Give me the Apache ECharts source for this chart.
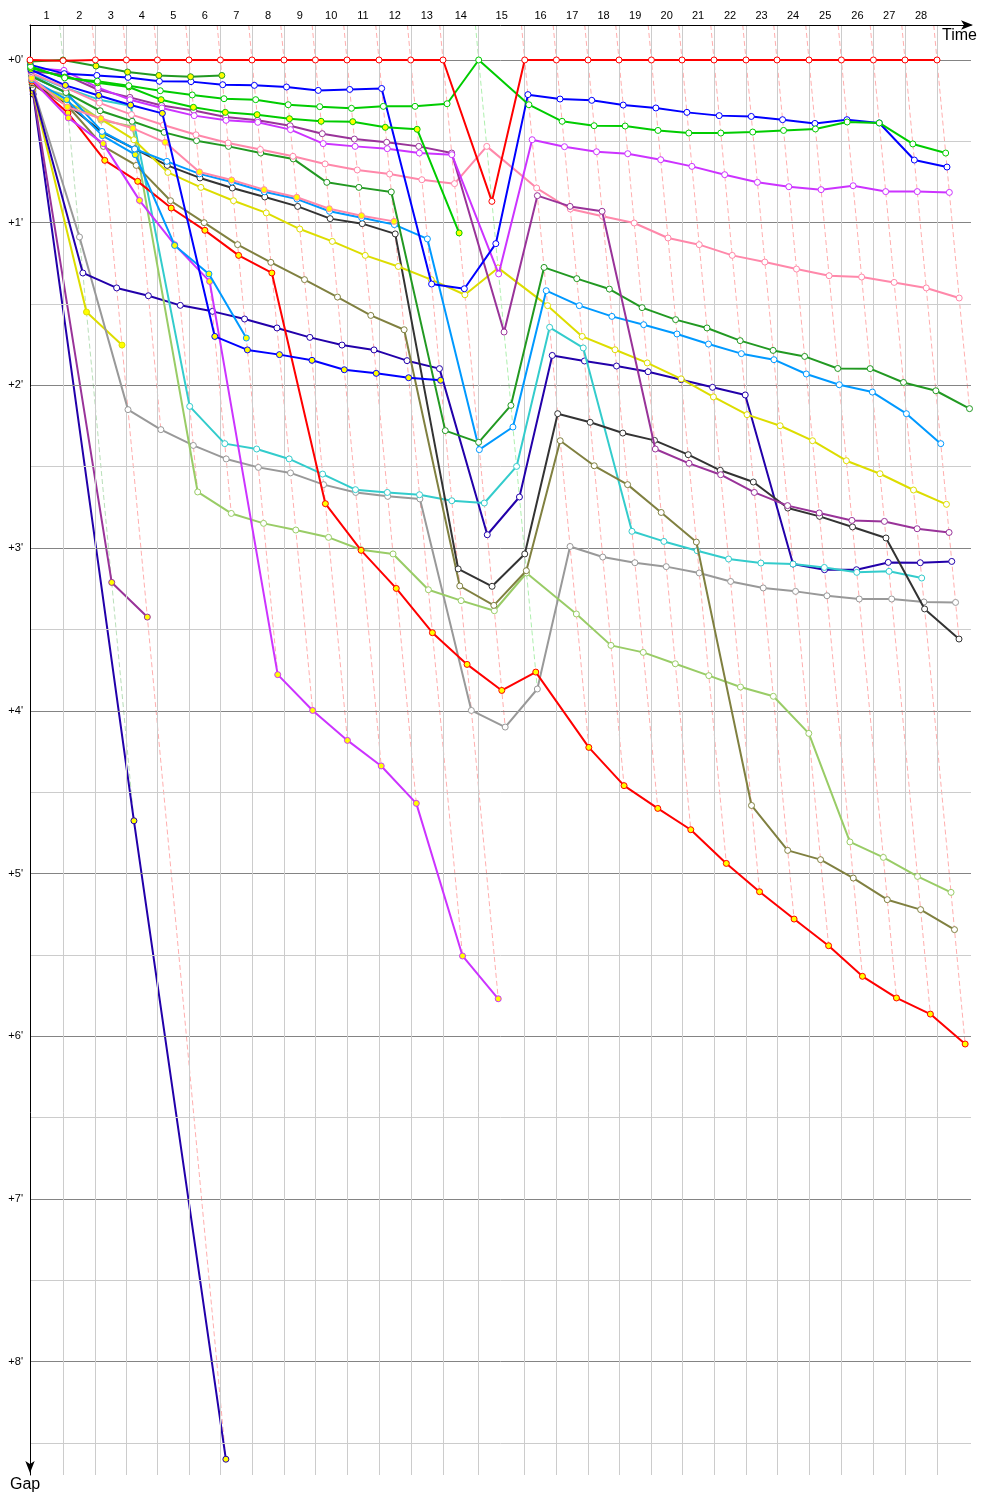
<!DOCTYPE html>
<html><head><meta charset="utf-8">
<script src="https://cdn.jsdelivr.net/npm/echarts@6/dist/echarts.min.js"></script>
<style>html,body{margin:0;padding:0;background:#fff}#c{width:1000px;height:1500px}</style>
</head><body><div id="c"></div>
<script>
// Leader's cumulative time (minutes) at the end of each lap, lap 0..28
const leaderTime = [0, 2.175, 4.311, 6.355, 8.398, 10.481, 12.551, 14.634, 16.744, 18.813, 20.896, 23.006, 25.096, 27.225, 29.578, 32.611, 34.700, 36.783, 38.827, 40.963, 42.980, 45.089, 47.199, 49.242, 51.351, 53.487, 55.597, 57.680, 59.789];
const lapLabels = ['1','2','3','4','5','6','7','8','9','10','11','12','13','14','15','16','17','18','19','20','21','22','23','24','25','26','27','28'];
const gapTicks = [0,1,2,3,4,5,6,7,8];

// Gap to leader (minutes) per lap, lap 0..last
const gapRedW = [0, 0.004, 0,0,0,0,0,0,0,0,0,0,0,0, 0.869, 0,0,0,0,0,0,0,0,0,0,0,0,0,0];
const gapDkGreenY = [0.01, 0, 0.037, 0.074, 0.095, 0.103, 0.095];
const gapGreenW = [0.04, 0.11, 0.13, 0.158, 0.189, 0.215, 0.238, 0.244, 0.275, 0.287, 0.297, 0.285, 0.285, 0.269, 0, 0.275, 0.377, 0.404, 0.406, 0.433, 0.449, 0.449, 0.443, 0.433, 0.424, 0.381, 0.387, 0.516, 0.572];
const gapGreenY = [0.05, 0.105, 0.14, 0.166, 0.244, 0.291, 0.322, 0.336, 0.361, 0.377, 0.379, 0.414, 0.426, 1.063];
const gapBlueW = [0.03, 0.084, 0.095, 0.107, 0.131, 0.133, 0.152, 0.156, 0.166, 0.187, 0.181, 0.175, 1.377, 1.406, 1.129, 0.213, 0.240, 0.248, 0.277, 0.295, 0.322, 0.342, 0.347, 0.367, 0.390, 0.367, 0.387, 0.615, 0.658];
const gapBlueY = [0.06, 0.156, 0.218, 0.277, 0.328, 1.699, 1.782, 1.811, 1.846, 1.904, 1.926, 1.953, 1.969];
const gapVioletW = [0.05, 0.064, 0.17, 0.244, 0.295, 0.342, 0.371, 0.383, 0.428, 0.514, 0.531, 0.545, 0.572, 0.582, 1.315, 0.490, 0.533, 0.564, 0.576, 0.613, 0.654, 0.705, 0.752, 0.779, 0.797, 0.773, 0.809, 0.809, 0.814];
const gapVioletY = [0.12, 0.356, 0.514, 0.863, 1.135, 1.361, 3.778, 3.998, 4.182, 4.339, 4.569, 5.507, 5.770];
const gapPurpleW = [0.07, 0.09, 0.183, 0.23, 0.28, 0.31, 0.350, 0.371, 0.404, 0.453, 0.486, 0.506, 0.531, 0.572, 1.672, 0.834, 0.900, 0.930, 2.391, 2.479, 2.549, 2.658, 2.739, 2.784, 2.830, 2.836, 2.881, 2.904];
const gapPurpleY = [0.19, 3.211, 3.424];
const gapPinkW = [0.08, 0.17, 0.264, 0.336, 0.40, 0.46, 0.51, 0.55, 0.592, 0.639, 0.676, 0.701, 0.736, 0.760, 0.531, 0.787, 0.916, 0.961, 1.002, 1.094, 1.135, 1.201, 1.242, 1.285, 1.326, 1.334, 1.367, 1.401, 1.463];
const gapPinkY = [0.11, 0.289, 0.36, 0.42, 0.506, 0.688, 0.738, 0.797, 0.844, 0.914, 0.957, 0.992];
const gapDkGreenW = [0.1, 0.2, 0.312, 0.377, 0.445, 0.496, 0.531, 0.572, 0.608, 0.752, 0.783, 0.811, 2.278, 2.350, 2.123, 1.275, 1.344, 1.408, 1.522, 1.596, 1.647, 1.725, 1.785, 1.822, 1.896, 1.897, 1.982, 2.033, 2.143];
const gapSkyW = [0.1, 0.2, 0.439, 0.547, 0.623, 0.70, 0.75, 0.81, 0.855, 0.93, 0.97, 1.012, 1.100, 2.395, 2.256, 1.418, 1.510, 1.576, 1.627, 1.684, 1.746, 1.805, 1.842, 1.930, 1.996, 2.041, 2.174, 2.358];
const gapSkyY = [0.12, 0.244, 0.465, 0.582, 1.14, 1.315, 1.709];
const gapYellowW = [0.13, 0.26, 0.363, 0.49, 0.691, 0.783, 0.865, 0.940, 1.039, 1.115, 1.201, 1.269, 1.350, 1.443, 1.278, 1.510, 1.699, 1.781, 1.862, 1.96, 2.071, 2.180, 2.248, 2.340, 2.463, 2.543, 2.643, 2.731];
const gapYellowY = [0.18, 1.549, 1.752];
const gapBlackW = [0.14, 0.27, 0.445, 0.547, 0.648, 0.725, 0.787, 0.842, 0.900, 0.975, 1.006, 1.069, 3.128, 3.235, 3.036, 2.174, 2.227, 2.293, 2.338, 2.426, 2.522, 2.594, 2.754, 2.805, 2.870, 2.938, 3.374, 3.559];
const gapOliveW = [0.15, 0.28, 0.531, 0.648, 0.865, 1.0, 1.135, 1.244, 1.350, 1.457, 1.570, 1.658, 3.233, 3.352, 3.139, 2.340, 2.494, 2.610, 2.781, 2.963, 4.582, 4.858, 4.915, 5.028, 5.161, 5.222, 5.345];
const gapNavyW = [0.17, 1.309, 1.401, 1.449, 1.508, 1.545, 1.592, 1.647, 1.705, 1.752, 1.782, 1.848, 1.897, 2.918, 2.686, 1.816, 1.850, 1.881, 1.916, 1.965, 2.012, 2.059, 3.098, 3.133, 3.133, 3.088, 3.090, 3.082];
const gapNavyY = [0.21, 4.676, 8.60];
const gapCyanW = [0.09, 0.172, 0.244, 0.281, 2.129, 2.358, 2.391, 2.452, 2.545, 2.641, 2.658, 2.672, 2.709, 2.723, 2.498, 1.643, 1.770, 2.897, 2.959, 3.016, 3.067, 3.092, 3.098, 3.119, 3.149, 3.143, 3.184];
const gapGrayW = [0.16, 1.088, 2.149, 2.272, 2.369, 2.452, 2.504, 2.538, 2.610, 2.658, 2.682, 2.698, 3.998, 4.100, 3.866, 2.990, 3.055, 3.090, 3.114, 3.153, 3.205, 3.245, 3.266, 3.293, 3.313, 3.313, 3.331, 3.334];
const gapLightGreenW = [0.15, 0.22, 0.37, 0.408, 2.655, 2.787, 2.848, 2.889, 2.934, 3.01, 3.036, 3.256, 3.323, 3.385, 3.153, 3.405, 3.598, 3.641, 3.711, 3.784, 3.854, 3.911, 4.139, 4.806, 4.901, 5.018, 5.116];
const gapRedY = [0.13, 0.326, 0.617, 0.746, 0.910, 1.047, 1.201, 1.309, 2.727, 3.014, 3.248, 3.520, 3.715, 3.875, 3.762, 4.225, 4.460, 4.600, 4.731, 4.938, 5.112, 5.280, 5.444, 5.632, 5.765, 5.864, 6.048];

// styles (kept apart from data)
const WHITE = '#ffffff', YEL = '#ffff00';
const drivers = [
  {gaps: gapNavyY, color: '#2200aa', fill: YEL},
  {gaps: gapPurpleY, color: '#993399', fill: YEL},
  {gaps: gapYellowY, color: '#dddd00', fill: YEL},
  {gaps: gapGrayW, color: '#999999', fill: WHITE},
  {gaps: gapNavyW, color: '#2200aa', fill: WHITE},
  {gaps: gapLightGreenW, color: '#99cc66', fill: WHITE},
  {gaps: gapCyanW, color: '#33cccc', fill: WHITE},
  {gaps: gapOliveW, color: '#808040', fill: WHITE},
  {gaps: gapBlackW, color: '#333333', fill: WHITE},
  {gaps: gapYellowW, color: '#dddd00', fill: WHITE},
  {gaps: gapRedY, color: '#ff0000', fill: YEL},
  {gaps: gapVioletY, color: '#cc33ff', fill: YEL},
  {gaps: gapSkyY, color: '#0099ff', fill: YEL},
  {gaps: gapSkyW, color: '#0099ff', fill: WHITE},
  {gaps: gapDkGreenW, color: '#229922', fill: WHITE},
  {gaps: gapPinkY, color: '#ff88aa', fill: YEL},
  {gaps: gapPinkW, color: '#ff88aa', fill: WHITE},
  {gaps: gapPurpleW, color: '#993399', fill: WHITE},
  {gaps: gapVioletW, color: '#cc33ff', fill: WHITE},
  {gaps: gapBlueY, color: '#0000ff', fill: YEL},
  {gaps: gapBlueW, color: '#0000ff', fill: WHITE},
  {gaps: gapGreenY, color: '#00cc00', fill: YEL},
  {gaps: gapGreenW, color: '#00cc00', fill: WHITE},
  {gaps: gapDkGreenY, color: '#229922', fill: YEL},
  {gaps: gapRedW, color: '#ff0000', fill: WHITE}
];

const Y_MIN = -0.215, Y_MAX = 8.697, X_MIN = 0, X_MAX = 62.03;

function rgba(hex, a){
  const n = parseInt(hex.slice(1), 16);
  return 'rgba(' + ((n>>16)&255) + ',' + ((n>>8)&255) + ',' + (n&255) + ',' + a + ')';
}

const series = [];

// grid lines
const gridLines = [];
for (let v = 0; v <= 8.5; v += 0.5) {
  gridLines.push({yAxis: v, lineStyle: {color: (v % 1 === 0) ? '#848484' : '#cccccc', width: 1, type: 'solid'}});
}
for (let n = 1; n < leaderTime.length; n++) {
  gridLines.push({xAxis: leaderTime[n], lineStyle: {color: '#cccccc', width: 1, type: 'solid'}});
}
series.push({
  type: 'line', data: [], z: 1, silent: true, symbol: 'none',
  markLine: {silent: true, symbol: ['none','none'], label: {show: false}, animation: false,
    emphasis: {disabled: true}, data: gridLines}
});

// lap lines (all points of one lap are colinear: x = leaderTime + gap)
for (let n = 1; n < leaderTime.length; n++) {
  let gmax = -1, gmin = 1e9, leader = null;
  drivers.forEach(d => {
    if (d.gaps.length > n) {
      const g = d.gaps[n];
      if (g > gmax) gmax = g;
      if (g < gmin) { gmin = g; leader = d; }
    }
  });
  series.push({
    type: 'line', z: 2, silent: true, symbol: 'none', animation: false,
    lineStyle: {color: rgba(leader.color, 0.32), width: 1, type: [5, 3]},
    data: [[leaderTime[n] + Y_MIN, Y_MIN], [leaderTime[n] + gmax, gmax]]
  });
}

// drivers
drivers.forEach((d, i) => {
  series.push({
    type: 'line', z: 3 + i, animation: false, silent: true,
    symbol: 'circle', symbolSize: 6, showSymbol: true, showAllSymbol: true,
    lineStyle: {color: d.color, width: 2},
    itemStyle: {color: d.fill, borderColor: d.color, borderWidth: 1},
    emphasis: {disabled: true},
    data: d.gaps.map((g, lap) => [leaderTime[lap] + g, g])
  });
});

const lapMids = lapLabels.map((s, i) => (leaderTime[i] + leaderTime[i+1]) / 2);

const chart = echarts.init(document.getElementById('c'), null, {renderer: 'canvas'});
chart.setOption({
  animation: false,
  backgroundColor: '#ffffff',
  textStyle: {fontFamily: 'Liberation Sans, Arial, sans-serif'},
  grid: {left: 30, top: 25, right: 29, bottom: 25, containLabel: false, outerBoundsMode: 'none'},
  xAxis: {
    type: 'value', position: 'top', min: X_MIN, max: X_MAX, z: 10,
    axisLine: {show: true, onZero: false, lineStyle: {color: '#000', width: 1}, symbol: ['none','arrow'], symbolSize: [7, 12], symbolOffset: [0, 2]},
    axisTick: {show: false},
    splitLine: {show: false},
    axisLabel: {
      customValues: lapMids, color: '#000', fontSize: 11, margin: 4,
      fontFamily: 'Liberation Sans, Arial, sans-serif',
      formatter: function (v) {
        let best = 0, bd = 1e9;
        lapMids.forEach((m, i) => { const dd = Math.abs(m - v); if (dd < bd) { bd = dd; best = i; } });
        return lapLabels[best];
      }
    }
  },
  yAxis: {
    type: 'value', inverse: true, min: Y_MIN, max: Y_MAX, z: 10,
    axisLine: {show: true, onZero: false, lineStyle: {color: '#000', width: 1}, symbol: ['arrow','none'], symbolSize: [7, 12], symbolOffset: [2, 0]},
    axisTick: {show: false},
    splitLine: {show: false},
    axisLabel: {
      customValues: gapTicks, color: '#000', fontSize: 11, margin: 7,
      fontFamily: 'Liberation Sans, Arial, sans-serif',
      formatter: v => "+" + v + "'"
    }
  },
  graphic: [
    {type: 'text', right: 23, top: 28, style: {text: 'Time', fontSize: 16, fill: '#000', fontFamily: 'Liberation Sans, Arial, sans-serif'}},
    {type: 'text', left: 10, top: 1477, style: {text: 'Gap', fontSize: 16, fill: '#000', fontFamily: 'Liberation Sans, Arial, sans-serif'}}
  ],
  series: series
});
</script>
</body></html>
